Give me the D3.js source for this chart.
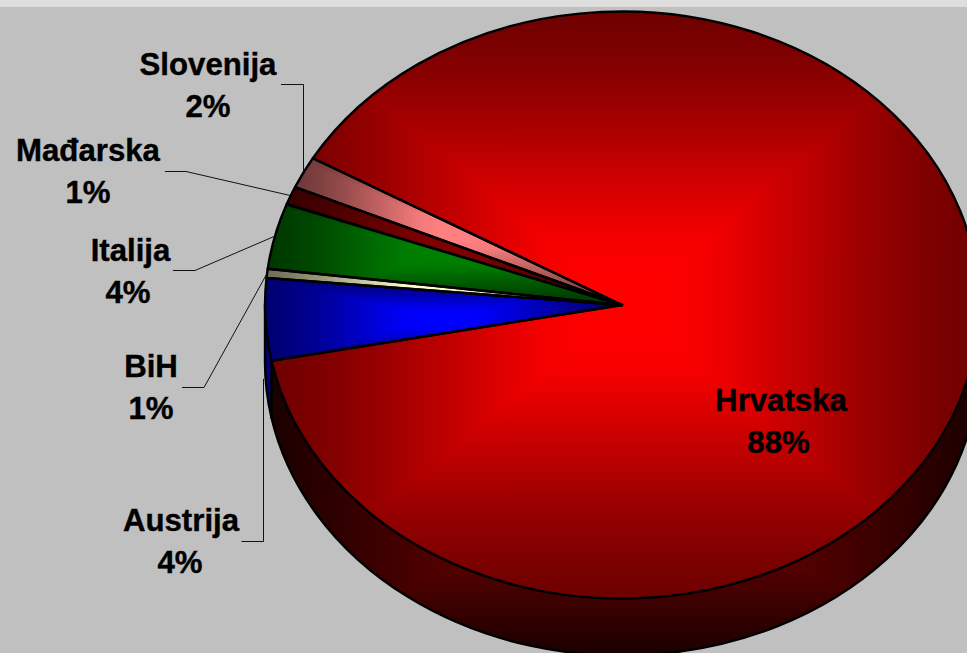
<!DOCTYPE html>
<html><head><meta charset="utf-8">
<style>html,body{margin:0;padding:0;background:#c0c0c0}svg{display:block}</style>
<script src="https://cdn.jsdelivr.net/npm/d3@7/dist/d3.min.js"></script>
</head><body>
<script>
const categories = ["Hrvatska","Austrija","BiH","Italija","Mađarska","Slovenija"];
const values = [88.4,4.5,0.5,3.6,1,1.75];
const percentLabels = ["88%","4%","1%","4%","1%","2%"];
const sliceColors = ["#ff0000","#0000ff","#ffffcc","#008000","#800000","#ff8080"];
const rimInner = ["#8c0000","#000090","#555544","#002000","#200000","#402020"];
const rimOuter = ["#1a0000","#000050","#222218","#000800","#080000","#100808"];

const W=967,H=653,cx=622,cy=305,rx=357,ry=293.5,depth=57;
const svg=d3.select("body").append("svg").attr("width",W).attr("height",H);
svg.append("rect").attr("width",W).attr("height",H).attr("fill","#c0c0c0");
svg.append("rect").attr("width",W).attr("height",7).attr("fill","#dedede");
const defs=svg.append("defs");

// brightness falloff of the rectangular "from centre" fill: [distance, factor]
const falloff=[[0,1],[0.12,0.995],[0.23,0.96],[0.35,0.87],[0.69,0.6],[0.865,0.49],[1,0.43]];
let gid=0;
function axisGradient(x1,y1,x2,y2,stopsFn){
  const id="g"+(gid++);
  const g=defs.append("linearGradient").attr("id",id).attr("gradientUnits","userSpaceOnUse")
    .attr("x1",x1).attr("y1",y1).attr("x2",x2).attr("y2",y2);
  const stops=stopsFn();
  const all=stops.map(([t,c])=>[(1-t)/2,c]).reverse().concat(stops.slice(1).map(([t,c])=>[(1+t)/2,c]));
  all.forEach(([o,c])=>g.append("stop").attr("offset",o).attr("stop-color",c));
  return `url(#${id})`;
}
// draws a clip-shaped box whose colour depends on max(|dx|/halfW,|dy|/halfH)
function boxFill(parent,box,clipD,clipTransform,stopsFn){
  const id="c"+(gid++);
  const cp=defs.append("clipPath").attr("id",id);
  const cpP=cp.append("path").attr("d",clipD);
  if(clipTransform) cpP.attr("transform",clipTransform);
  const g=parent.append("g").attr("clip-path",`url(#${id})`).append("g").style("isolation","isolate");
  g.append("rect").attr("x",box.x).attr("y",box.y).attr("width",box.width).attr("height",box.height)
    .attr("fill",axisGradient(box.x,0,box.x+box.width,0,stopsFn));
  g.append("rect").attr("x",box.x).attr("y",box.y).attr("width",box.width).attr("height",box.height)
    .attr("fill",axisGradient(0,box.y,0,box.y+box.height,stopsFn)).style("mix-blend-mode","darken");
}

const pie=d3.pie().value(d=>d).sort(null)
  .startAngle(-Math.PI/3).endAngle(-Math.PI/3+2*Math.PI);
const arcs=pie(values);
const arc=d3.arc().innerRadius(0).outerRadius(rx);
const px=a=>cx+rx*Math.sin(a), py=a=>cy-ry*Math.cos(a);
const k=ry/rx;
const topTransform=`translate(${cx},${cy}) scale(1,${k})`;
const edgeWidth=2.4;

// rim: visible front part of each slice
const rimG=svg.append("g");
const measure=svg.append("path").attr("fill","none");
arcs.forEach((d,i)=>{
  [0,2*Math.PI,-2*Math.PI].forEach(shift=>{
    const a0=Math.max(d.startAngle+shift,Math.PI/2), a1=Math.min(d.endAngle+shift,1.5*Math.PI);
    if(a1<=a0) return;
    const large=(a1-a0)>Math.PI?1:0;
    const s=`M${px(a0)},${py(a0)}A${rx},${ry} 0 ${large} 1 ${px(a1)},${py(a1)}`+
      `L${px(a1)},${py(a1)+depth}A${rx},${ry} 0 ${large} 0 ${px(a0)},${py(a0)+depth}Z`;
    const box=measure.attr("d",s).node().getBBox();
    boxFill(rimG,box,s,null,()=>[[0,rimInner[i]],[1,rimOuter[i]]]);
    rimG.append("path").attr("d",s).attr("fill","none")
      .attr("stroke","#000").attr("stroke-width",edgeWidth).attr("stroke-linejoin","round");
  });
});
// top face: every slice has its fill fitted to its own bounding box
const topG=svg.append("g");
arcs.forEach((d,i)=>{
  const dPath=arc(d);
  const b=measure.attr("d",dPath).node().getBBox();
  const box={x:cx+b.x,y:cy+b.y*k,width:b.width,height:b.height*k};
  const c=d3.color(sliceColors[i]);
  const stopsFn=()=>falloff.map(([t,f])=>[t,d3.rgb(c.r*f,c.g*f,c.b*f).formatHex()]);
  boxFill(topG,box,dPath,topTransform,stopsFn);
});
topG.selectAll("path.edge").data(arcs).join("path").attr("class","edge")
  .attr("transform",topTransform)
  .attr("d",arc).attr("fill","none")
  .attr("stroke","#000").attr("stroke-width",edgeWidth).attr("stroke-linejoin","round")
  .attr("vector-effect","non-scaling-stroke");
measure.remove();

// leader lines: label elbow -> slice edge
const leaderElbow=[null,[[241.5,541.5],[263.5,541.5]],[[182,387.5],[204,387.5]],[[173,270.5],[195,270.5]],[[165,171.5],[186,171.5]],[[281,84.5],[303.5,84.5]]];
arcs.forEach((d,i)=>{
  if(!leaderElbow[i])return;
  const mid=(d.startAngle+d.endAngle)/2;
  const e=leaderElbow[i];
  const end = i===1 ? [e[1][0],py(d.startAngle)+18]
            : i===5 ? [e[1][0],py(mid)] : [px(mid),py(mid)];
  svg.append("path").attr("d",d3.line()([...e,end])).attr("fill","none").attr("stroke","#111").attr("stroke-width",1);
});
// labels
const labelX=[781,181,151,130.5,88,208];
const labelY=[411,531,377,261,161,75];
const percentX=[778.5,180,151,128,88,208];
const lineGap=41.5;
const font="'Liberation Sans',Arial,sans-serif";
categories.forEach((c,i)=>{
  const t=svg.append("text").attr("text-anchor","middle").attr("font-family",font)
    .attr("font-weight",700).attr("font-size",31.2).attr("fill","#000")
    .attr("stroke","#000").attr("stroke-width",0.4);
  t.append("tspan").attr("x",labelX[i]).attr("y",labelY[i]).text(c);
  t.append("tspan").attr("x",percentX[i]).attr("y",labelY[i]+lineGap).text(percentLabels[i]);
});
</script>
</body></html>
